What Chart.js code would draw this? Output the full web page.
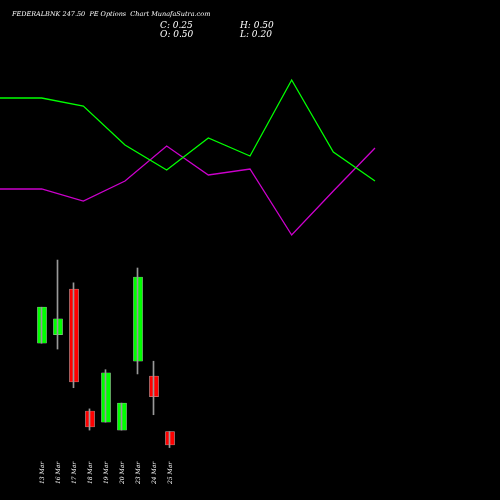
<!DOCTYPE html>
<html>
<head>
<script src="https://cdn.jsdelivr.net/npm/chart.js@4/dist/chart.umd.min.js"></script>
<style>body{margin:0;background:#000}#wrap{width:500px;height:500px}</style>
</head>
<body>
<div id="wrap"><canvas id="c"></canvas></div>
<script>
const days = ['13 Mar', '16 Mar', '17 Mar', '18 Mar', '19 Mar', '20 Mar', '23 Mar', '24 Mar', '25 Mar'];
const opens = [2.17, 2.33, 3.19, 0.89, 0.68, 0.53, 1.83, 1.55, 0.50];
const closes = [2.85, 2.63, 1.44, 0.59, 1.61, 1.04, 3.42, 1.16, 0.25];
const highs = [2.85, 3.74, 3.31, 0.93, 1.67, 1.04, 3.59, 1.83, 0.50];
const lows = [2.17, 2.06, 1.33, 0.53, 0.68, 0.53, 1.59, 0.82, 0.20];
const greenLine = [402, 402, 394, 355, 330, 362, 344, 420, 348, 319];
const magentaLine = [311, 311, 299, 319, 354, 325, 331, 265, 309, 352];

const bodyColors = opens.map((o, i) => closes[i] >= o ? '#00ff00' : '#ff0000');

const textPlugin = {
    id: 'texts',
    afterDraw(chart) {
        const ctx = chart.ctx;
        const xs = chart.scales.x;
        ctx.save();
        ctx.fillStyle = '#fff';
        ctx.font = 'italic 6.5px "DejaVu Serif"';
        ctx.fillText('FEDERALBNK 247.50  PE Options  Chart MunafaSutra.com', 12, 16);
        ctx.font = 'italic 9px "DejaVu Serif"';
        ctx.fillText('C: 0.25', 160, 28);
        ctx.fillText('O: 0.50', 160, 37);
        ctx.fillText('H: 0.50', 240, 28);
        ctx.fillText('L: 0.20', 240, 37);
        ctx.font = 'italic 6px "DejaVu Serif"';
        days.forEach((d, i) => {
            ctx.save();
            ctx.translate(xs.getPixelForValue(i + 1) + 2, 484);
            ctx.rotate(-Math.PI / 2);
            ctx.fillText(d, 0, 0);
            ctx.restore();
        });
        ctx.restore();
    }
};

new Chart(document.getElementById('c'), {
    type: 'bar',
    data: {
        datasets: [
            {
                label: 'wick',
                data: days.map((d, i) => ({x: i + 1, y: [lows[i], highs[i]]})),
                backgroundColor: '#999',
                barThickness: 1,
                xAxisID: 'x', yAxisID: 'y'
            },
            {
                label: 'body',
                data: days.map((d, i) => ({x: i + 1, y: [opens[i], closes[i]]})),
                backgroundColor: bodyColors,
                borderColor: '#bbb',
                borderWidth: 0.5,
                borderSkipped: false,
                barThickness: 9,
                grouped: false,
                xAxisID: 'x', yAxisID: 'y'
            },
            {
                type: 'line',
                label: 'green',
                data: greenLine.map((v, i) => ({x: i, y: v})),
                borderColor: '#00ff00',
                borderWidth: 1.3,
                pointRadius: 0,
                xAxisID: 'x2', yAxisID: 'y2'
            },
            {
                type: 'line',
                label: 'magenta',
                data: magentaLine.map((v, i) => ({x: i, y: v})),
                borderColor: '#cc00cc',
                borderWidth: 1.3,
                pointRadius: 0,
                xAxisID: 'x2', yAxisID: 'y2'
            }
        ]
    },
    options: {
        responsive: true,
        maintainAspectRatio: false,
        animation: false,
        layout: {padding: 0},
        plugins: {legend: {display: false}, tooltip: {enabled: false}},
        scales: {
            x: {type: 'linear', min: -1.625, max: 29.625, offset: false, display: false},
            y: {min: -0.79, max: 8.65, display: false},
            x2: {type: 'linear', min: 0, max: 12, offset: false, display: false},
            y2: {min: 0, max: 500, display: false}
        }
    },
    plugins: [textPlugin]
});
</script>
</body>
</html>
